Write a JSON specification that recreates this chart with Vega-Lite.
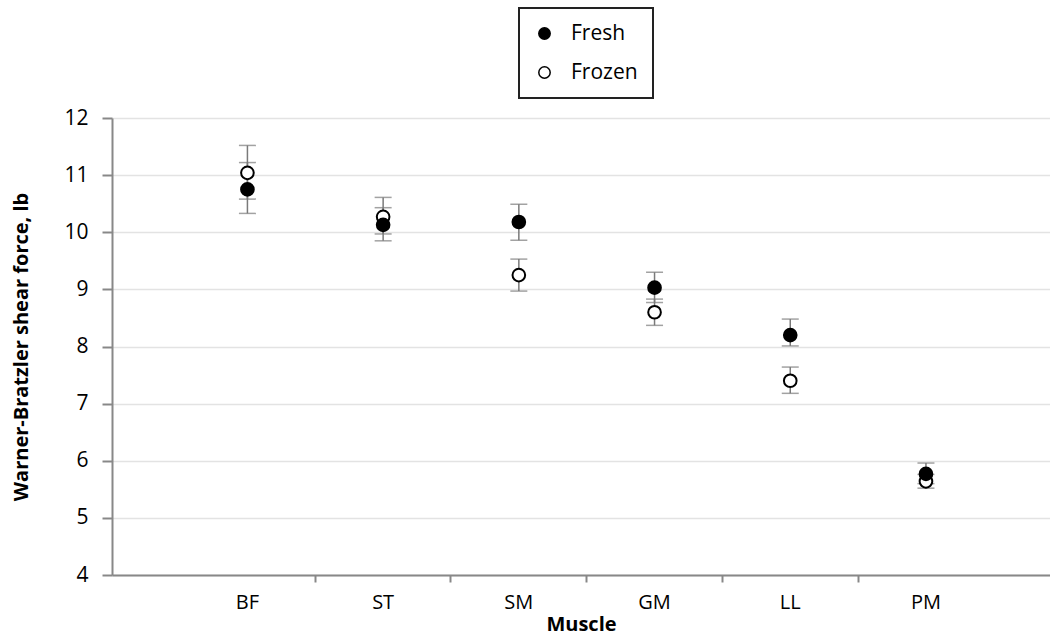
{
  "$schema": "https://vega.github.io/schema/vega-lite/v6.json",
  "width": 938,
  "height": 457,
  "autosize": {"type": "none"},
  "padding": {"left": 112, "top": 118, "right": 0, "bottom": 67},
  "background": "white",
  "config": {
    "font": "Open Sans",
    "view": {"stroke": null}
  },
  "data": {
    "values": [
      {"muscle": "BF", "treatment": "Frozen", "mean": 11.04, "lo": 10.58, "hi": 11.52},
      {"muscle": "ST", "treatment": "Frozen", "mean": 10.27, "lo": 9.97, "hi": 10.61},
      {"muscle": "SM", "treatment": "Frozen", "mean": 9.25, "lo": 8.97, "hi": 9.53},
      {"muscle": "GM", "treatment": "Frozen", "mean": 8.6, "lo": 8.37, "hi": 8.83},
      {"muscle": "LL", "treatment": "Frozen", "mean": 7.4, "lo": 7.18, "hi": 7.64},
      {"muscle": "PM", "treatment": "Frozen", "mean": 5.64, "lo": 5.52, "hi": 5.76},
      {"muscle": "BF", "treatment": "Fresh", "mean": 10.75, "lo": 10.33, "hi": 11.22},
      {"muscle": "ST", "treatment": "Fresh", "mean": 10.13, "lo": 9.85, "hi": 10.43},
      {"muscle": "SM", "treatment": "Fresh", "mean": 10.18, "lo": 9.86, "hi": 10.49},
      {"muscle": "GM", "treatment": "Fresh", "mean": 9.03, "lo": 8.77, "hi": 9.3},
      {"muscle": "LL", "treatment": "Fresh", "mean": 8.2, "lo": 8.01, "hi": 8.48},
      {"muscle": "PM", "treatment": "Fresh", "mean": 5.77, "lo": 5.6, "hi": 5.96}
    ]
  },
  "encoding": {
    "x": {
      "field": "muscle",
      "type": "nominal",
      "sort": ["BF", "ST", "SM", "GM", "LL", "PM"],
      "scale": {"paddingInner": 0, "paddingOuter": 0.456, "align": 0.546},
      "axis": {
        "title": "Muscle",
        "titleFont": "Open Sans",
        "titleFontSize": 20,
        "titleFontWeight": "bold",
        "titleColor": "black",
        "titlePadding": 2,
        "labelAngle": 0,
        "labelFontSize": 20,
        "labelColor": "black",
        "labelPadding": 10,
        "bandPosition": 0,
        "domainColor": "#888888",
        "domainWidth": 2,
        "tickColor": {"condition": {"test": "datum.value == 'BF'", "value": "transparent"}, "value": "#888888"},
        "tickWidth": 2,
        "tickSize": 7,
        "grid": false
      }
    }
  },
  "layer": [
    {
      "mark": {"type": "rule", "color": "#7a7a7a", "strokeWidth": 1.5},
      "encoding": {
        "y": {
          "field": "lo",
          "type": "quantitative",
          "scale": {"domain": [4, 12], "nice": false, "zero": false},
          "axis": {
            "title": "Warner-Bratzler shear force, lb",
            "titleFont": "Open Sans",
            "titleFontSize": 20,
            "titleFontWeight": "bold",
            "titleColor": "black",
            "titlePadding": 32,
            "values": [4, 5, 6, 7, 8, 9, 10, 11, 12],
            "format": "d",
            "labelFontSize": 21,
            "labelColor": "black",
            "labelPadding": 14,
            "domainColor": "#888888",
            "domainWidth": 2,
            "tickColor": "#888888",
            "tickWidth": 2,
            "tickSize": 10,
            "grid": true,
            "gridColor": "#e3e3e3",
            "gridWidth": 1.5
          }
        },
        "y2": {"field": "hi"}
      }
    },
    {
      "mark": {"type": "tick", "color": "#7a7a7a", "size": 17, "thickness": 1.5, "orient": "horizontal"},
      "encoding": {"y": {"field": "lo", "type": "quantitative"}}
    },
    {
      "mark": {"type": "tick", "color": "#7a7a7a", "size": 17, "thickness": 1.5, "orient": "horizontal"},
      "encoding": {"y": {"field": "hi", "type": "quantitative"}}
    },
    {
      "mark": {"type": "point", "shape": "circle", "filled": false, "stroke": "black", "strokeWidth": 2, "size": 160, "opacity": 1},
      "encoding": {
        "y": {"field": "mean", "type": "quantitative"},
        "fill": {
          "field": "treatment",
          "type": "nominal",
          "scale": {"domain": ["Fresh", "Frozen"], "range": ["black", "white"]},
          "legend": {
            "title": null,
            "orient": "none",
            "legendX": 407,
            "legendY": -110,
            "direction": "vertical",
            "strokeColor": "#222222",
            "padding": 15,
            "labelFontSize": 21,
            "labelColor": "black",
            "labelOffset": 16,
            "rowPadding": 17,
            "symbolType": "circle",
            "symbolSize": 130,
            "symbolStrokeColor": "black",
            "symbolStrokeWidth": 1.5,
            "symbolOpacity": 1,
            "fillColor": "white",
            "encode": {"legend": {"update": {"strokeWidth": {"value": 2}}}}
          }
        }
      }
    }
  ]
}
